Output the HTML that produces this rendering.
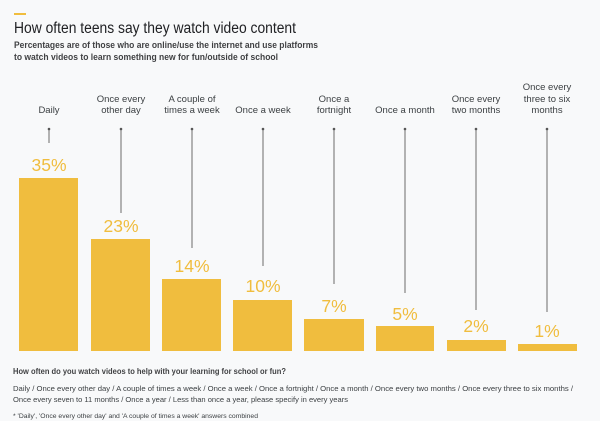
<!DOCTYPE html>
<html><head><style>
body{margin:0;width:600px;height:421px;background:#f8f9fa;font-family:"Liberation Sans",sans-serif;overflow:hidden}
</style></head><body>
<svg width="600" height="421" xmlns="http://www.w3.org/2000/svg" style="position:absolute;left:0;top:0">
<rect x="14" y="13" width="12" height="2" fill="#f0bd3e"/>
<text x="14" y="33" font-size="15.5" fill="#202124" textLength="282" lengthAdjust="spacingAndGlyphs">How often teens say they watch video content</text>
<text x="14" y="48" font-size="9.3" fill="#202124" font-weight="bold" opacity="0.85" textLength="304" lengthAdjust="spacingAndGlyphs">Percentages are of those who are online/use the internet and use platforms</text>
<text x="14" y="60" font-size="9.3" fill="#202124" font-weight="bold" opacity="0.85" textLength="264" lengthAdjust="spacingAndGlyphs">to watch videos to learn something new for fun/outside of school</text>
<g font-size="9.5" fill="#3c4043" text-anchor="middle">
<text x="49" y="113">Daily</text>
<text x="121" y="102">Once every</text><text x="121" y="113">other day</text>
<text x="192" y="102">A couple of</text><text x="192" y="113">times a week</text>
<text x="263" y="113">Once a week</text>
<text x="334" y="102">Once a</text><text x="334" y="113">fortnight</text>
<text x="405" y="113">Once a month</text>
<text x="476" y="102">Once every</text><text x="476" y="113">two months</text>
<text x="547" y="90">Once every</text><text x="547" y="102">three to six</text><text x="547" y="113">months</text>
</g>
<g stroke="#6b6b6b" stroke-width="1">
<line x1="49" y1="129" x2="49" y2="143"/>
<line x1="121" y1="129" x2="121" y2="213"/>
<line x1="192" y1="129" x2="192" y2="248"/>
<line x1="263" y1="129" x2="263" y2="266"/>
<line x1="334" y1="129" x2="334" y2="284"/>
<line x1="405" y1="129" x2="405" y2="293"/>
<line x1="476" y1="129" x2="476" y2="310"/>
<line x1="547" y1="129" x2="547" y2="312"/>
</g>
<g fill="#555">
<circle cx="49" cy="129" r="1.3"/><circle cx="121" cy="129" r="1.3"/><circle cx="192" cy="129" r="1.3"/><circle cx="263" cy="129" r="1.3"/><circle cx="334" cy="129" r="1.3"/><circle cx="405" cy="129" r="1.3"/><circle cx="476" cy="129" r="1.3"/><circle cx="547" cy="129" r="1.3"/>
</g>
<g fill="#f0bd3e">
<rect x="19" y="178" width="59" height="173"/>
<rect x="91" y="239" width="59" height="112"/>
<rect x="162" y="279" width="59" height="72"/>
<rect x="233" y="300" width="59" height="51"/>
<rect x="304" y="319" width="60" height="32"/>
<rect x="376" y="326" width="58" height="25"/>
<rect x="447" y="340" width="59" height="11"/>
<rect x="518" y="344" width="59" height="7"/>
</g>
<g font-size="17.5" fill="#f0bd3e" text-anchor="middle">
<text x="49" y="171">35%</text>
<text x="121" y="232">23%</text>
<text x="192" y="272">14%</text>
<text x="263" y="292">10%</text>
<text x="334" y="312">7%</text>
<text x="405" y="320">5%</text>
<text x="476" y="332">2%</text>
<text x="547" y="337">1%</text>
</g>
<text x="13" y="374" font-size="7.8" fill="#202124" font-weight="bold" opacity="0.85" textLength="273" lengthAdjust="spacingAndGlyphs">How often do you watch videos to help with your learning for school or fun?</text>
<text x="13" y="391" font-size="7.5" fill="#3c4043" textLength="560" lengthAdjust="spacingAndGlyphs">Daily / Once every other day / A couple of times a week / Once a week / Once a fortnight / Once a month / Once every two months / Once every three to six months /</text>
<text x="13" y="402" font-size="7.5" fill="#3c4043" textLength="335" lengthAdjust="spacingAndGlyphs">Once every seven to 11 months / Once a year / Less than once a year, please specify in every years</text>
<text x="13" y="418" font-size="6.2" fill="#3c4043" textLength="245" lengthAdjust="spacingAndGlyphs">* 'Daily', 'Once every other day' and 'A couple of times a week' answers combined</text>
</svg>
</body></html>
